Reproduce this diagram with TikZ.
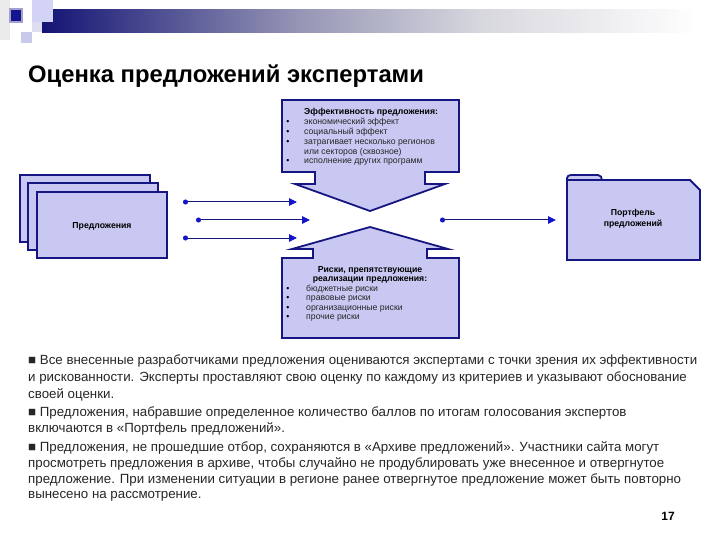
\documentclass[tikz,border=0pt]{standalone}
\usepackage{fontspec}
\setmainfont{Liberation Sans}
\usetikzlibrary{arrows.meta}
\definecolor{navy}{RGB}{22,22,130}
\definecolor{lav}{RGB}{200,200,242}
\definecolor{dotblue}{RGB}{20,20,200}
\definecolor{barmid}{RGB}{150,150,182}
\definecolor{barlight}{RGB}{215,215,222}
\tikzset{
  boxstyle/.style={draw=navy, fill=lav, line width=1.8pt},
  smalltxt/.style={font=\fontsize{8.7}{9.5}\selectfont, inner sep=0pt, anchor=base west, text=black!85},
  bul/.style={font=\fontsize{8.7}{9.5}\selectfont, inner sep=0pt, anchor=base},
  boldsmall/.style={font=\fontsize{8.7}{9.5}\selectfont\bfseries, inner sep=0pt},
  conn/.style={draw=navy, line width=1pt, {Circle[length=5pt,fill=dotblue,color=dotblue]}-{Triangle[length=8pt,width=7.5pt,fill=dotblue,color=dotblue]}},
  bodytxt/.style={font=\fontsize{13.3}{16}\selectfont, inner sep=0pt, anchor=base west, text=black!85},
}
\begin{document}
\begin{tikzpicture}[x=1pt,y=-1pt]
\useasboundingbox (0,0) rectangle (720,540);
% header decoration
\fill[black!8] (0,0) rectangle (10,40);
\fill[left color=navy!90!black, right color=barmid] (42,10) rectangle (300,33);
\fill[left color=barmid, right color=barlight] (300,10) rectangle (480,33);
\fill[left color=barlight, right color=white] (480,10) rectangle (700,33);
\fill[lav!80!white] (32,0) rectangle (53,22);
\fill[black!6!lav!50] (32,22) rectangle (42,32);
\fill[lav!80!navy!60] (21,32) rectangle (32,43);
\fill[navy!40] (9,8) rectangle (23,23);
\fill[navy!90!blue] (11,10) rectangle (21,21);
% title
\node[font=\fontsize{23.8}{26}\selectfont\bfseries, anchor=base west, inner sep=0pt] (title) at (28,83) {Оценка предложений экспертами};
% left stacked boxes
\draw[boxstyle] (20,175) rectangle (150,242);
\draw[boxstyle] (28,183) rectangle (158,250);
\draw[boxstyle] (37,192) rectangle (167,258);
\node[font=\fontsize{8.7}{10}\selectfont\bfseries, inner sep=0pt] (prop) at (102,226) {Предложения};
% top callout
\draw[boxstyle] (282,100) -- (459,100) -- (459,172) -- (425,172) -- (425,184) -- (445,184) -- (370,211) -- (295,184) -- (315,184) -- (315,172) -- (282,172) -- cycle;
\node[boldsmall, anchor=base west] (efft) at (304,115) {Эффективность предложения:};
\foreach \y/\t in {125/{экономический эффект},135/{социальный эффект},145/{затрагивает несколько регионов},164/{исполнение других программ}}{
  \node[bul] at (288,\y) {•};
  \node[smalltxt] at (304,\y) {\t};
}
\node[smalltxt] (effc) at (304,154.5) {или секторов (сквозное)};
% bottom callout
\draw[boxstyle] (370,227) -- (448,249) -- (427,249) -- (427,258) -- (459,258) -- (459,338) -- (282,338) -- (282,258) -- (313,258) -- (313,249) -- (292,249) -- cycle;
\node[boldsmall, anchor=base] (riskt1) at (370,272) {Риски, препятствующие};
\node[boldsmall, anchor=base] (riskt2) at (370,281.5) {реализации предложения:};
\foreach \y/\t in {291/{бюджетные риски},300.5/{правовые риски},310/{организационные риски},319.5/{прочие риски}}{
  \node[bul] at (288,\y) {•};
  \node[smalltxt] at (306,\y) {\t};
}
% right folder
\draw[boxstyle] (567,260) -- (567,178) to[out=90,in=180] (571,175) -- (598,175) to[out=0,in=90] (602,180) -- (690,180) -- (700,190) -- (700,260) -- cycle;
\draw[draw=navy, line width=1.2pt] (567,180) -- (602,180);
\node[font=\fontsize{8.7}{11}\selectfont\bfseries, align=center, inner sep=0pt] (port) at (633,219) {Портфель\\предложений};
% connectors
\coordinate (a1s) at (183,202); \coordinate (a1e) at (297,202);
\coordinate (a2s) at (196,220); \coordinate (a2e) at (310,220);
\coordinate (a3s) at (183,238); \coordinate (a3e) at (297,238);
\coordinate (a4s) at (440,220); \coordinate (a4e) at (556,220);
\draw[conn] (a1s) -- (a1e);
\draw[conn] (a2s) -- (a2e);
\draw[conn] (a3s) -- (a3e);
\draw[conn] (a4s) -- (a4e);
% body text
\node[bodytxt] (l1) at (28,364) {■ Все внесенные разработчиками предложения оцениваются экспертами с точки зрения их эффективности};
\node[bodytxt] (l2) at (28,381) {и рискованности. Эксперты проставляют свою оценку по каждому из критериев и указывают обоснование};
\node[bodytxt] (l3) at (28,398) {своей оценки.};
\node[bodytxt] (l4) at (28,416) {■ Предложения, набравшие определенное количество баллов по итогам голосования экспертов};
\node[bodytxt] (l5) at (28,432.5) {включаются в «Портфель предложений».};
\node[bodytxt] (l6) at (28,451) {■ Предложения, не прошедшие отбор, сохраняются в «Архиве предложений». Участники сайта могут};
\node[bodytxt] (l7) at (28,467) {просмотреть предложения в архиве, чтобы случайно не продублировать уже внесенное и отвергнутое};
\node[bodytxt] (l8) at (28,483) {предложение. При изменении ситуации в регионе ранее отвергнутое предложение может быть повторно};
\node[bodytxt] (l9) at (28,498.5) {вынесено на рассмотрение.};
\node[font=\fontsize{12}{14}\selectfont\bfseries, anchor=base east, inner sep=0pt] (pg) at (675,520) {17};
\end{tikzpicture}
\end{document}
